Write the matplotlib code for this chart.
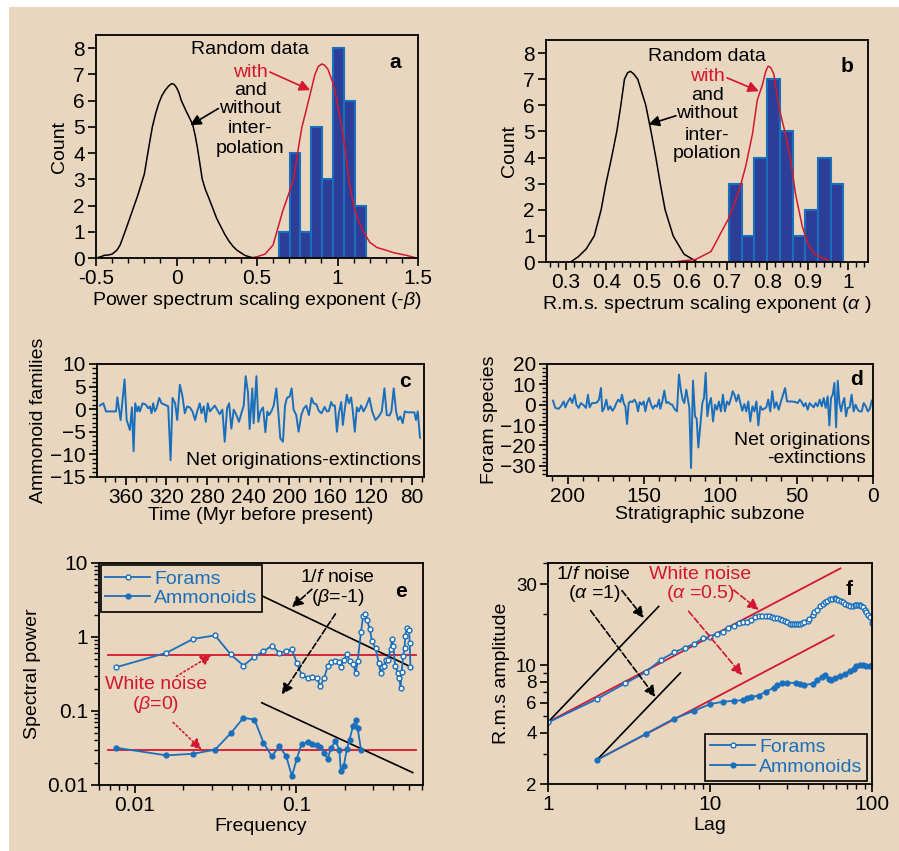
import matplotlib
matplotlib.use("Agg")
import matplotlib.pyplot as plt
import matplotlib.ticker as mticker
from matplotlib.patches import Rectangle

plt.rcParams['font.family'] = ['Liberation Sans', 'DejaVu Sans']
plt.rcParams['mathtext.fontset'] = 'custom'
plt.rcParams['mathtext.rm'] = 'Liberation Sans'
plt.rcParams['mathtext.it'] = 'Liberation Sans:italic'
FS = 14
TS = 15
plt.rcParams['font.size'] = FS

BG = '#e8d7be'
BLUE = '#1a6fbd'
NAVY = '#2c3e97'
RED = '#d3172e'

# ---- panel a: power spectrum exponents ----
edges_a = [0.634, 0.702, 0.770, 0.838, 0.906, 0.974, 1.042, 1.110, 1.178]
counts_a = [1, 4, 1, 5, 3, 8, 6, 2]
blk_a_x = [-0.5, -0.47, -0.45, -0.42, -0.4, -0.37, -0.35, -0.32, -0.3, -0.28, -0.26, -0.24, -0.22,
           -0.2, -0.185, -0.17, -0.15, -0.13, -0.11, -0.09, -0.07, -0.05, -0.03, -0.015, 0.0,
           0.015, 0.03, 0.045, 0.06, 0.08, 0.1, 0.115, 0.13, 0.145, 0.16, 0.18, 0.2, 0.225,
           0.25, 0.275, 0.3, 0.325, 0.35, 0.375, 0.4, 0.425, 0.45, 0.48]
blk_a_y = [0.0, 0.05, 0.1, 0.12, 0.15, 0.3, 0.5, 1.0, 1.35, 1.7, 2.05, 2.4, 2.8,
           3.2, 3.75, 4.3, 5.0, 5.5, 5.9, 6.2, 6.4, 6.55, 6.65, 6.62, 6.5,
           6.3, 6.0, 5.8, 5.6, 5.35, 5.1, 4.7, 4.2, 3.6, 3.0, 2.6, 2.3, 1.9,
           1.5, 1.2, 0.9, 0.65, 0.45, 0.3, 0.2, 0.1, 0.05, 0.0]
red_a_x = [0.46, 0.5, 0.55, 0.6, 0.623, 0.66, 0.7, 0.727, 0.76, 0.779, 0.80, 0.82, 0.84, 0.86,
           0.88, 0.903, 0.92, 0.94, 0.97, 0.996, 1.01, 1.027, 1.05, 1.069, 1.1, 1.13, 1.162, 1.2,
           1.245, 1.3, 1.35, 1.43, 1.49]
red_a_y = [0.0, 0.05, 0.15, 0.5, 1.0, 1.8, 2.5, 3.0, 4.3, 5.0, 5.5, 6.0, 6.5, 7.0,
           7.3, 7.4, 7.35, 7.2, 6.7, 6.0, 5.5, 5.0, 4.0, 3.0, 2.0, 1.4, 1.0, 0.6,
           0.4, 0.3, 0.2, 0.1, 0.0]

# ---- panel b: rms exponents ----
edges_b = [0.705, 0.7365, 0.768, 0.7995, 0.831, 0.8625, 0.894, 0.9255, 0.957, 0.9885]
counts_b = [3, 1, 4, 7, 5, 1, 2, 4, 3]
blk_b_x = [0.311, 0.33, 0.35, 0.37, 0.387, 0.399, 0.413, 0.426, 0.436, 0.445, 0.453, 0.46,
           0.468, 0.478, 0.498, 0.511, 0.523, 0.534, 0.546, 0.566, 0.593, 0.626]
blk_b_y = [0.0, 0.2, 0.5, 1.0, 2.0, 3.0, 4.0, 5.0, 6.0, 7.0, 7.25, 7.3,
           7.2, 7.0, 6.0, 5.0, 4.0, 3.0, 2.0, 1.0, 0.3, 0.0]
red_b_x = [0.566, 0.622, 0.66, 0.684, 0.705, 0.73, 0.746, 0.763, 0.775, 0.788, 0.796, 0.802,
           0.808, 0.816, 0.829, 0.845, 0.858, 0.87, 0.887, 0.903, 0.92, 0.936, 0.953]
red_b_y = [0.0, 0.1, 0.4, 1.1, 1.7, 2.75, 3.65, 4.9, 6.2, 6.8, 7.3, 7.5,
           7.45, 7.2, 5.9, 4.9, 3.9, 2.6, 1.35, 0.6, 0.28, 0.15, 0.08]

# ---- panel c: ammonoid net originations ----
c_time = [385.1, 381.8, 379.2, 369.4, 368.1, 364.9, 361.0, 359.0, 355.8, 353.8,
          352.2, 350.6, 348.6, 347.3, 346.0, 343.4, 340.2, 337.9, 336.2, 334.6,
          333.0, 331.4, 329.7, 327.1, 324.8, 321.6, 318.3, 316.0, 314.1, 311.5,
          309.5, 306.9, 304.3, 302.1, 299.8, 297.2, 294.6, 292.0, 290.0, 287.4,
          285.8, 283.5, 281.5, 279.6, 277.6, 275.0, 272.7, 270.5, 267.9, 265.3,
          263.0, 260.7, 258.7, 256.5, 254.2, 251.6, 249.0, 246.7, 244.4, 242.5,
          240.2, 238.6, 236.0, 234.7, 232.0, 230.1, 228.1, 225.5, 223.2, 221.3,
          219.7, 217.4, 215.1, 212.5, 210.6, 208.6, 206.0, 204.0, 202.1, 199.5,
          197.5, 195.6, 193.0, 190.7, 188.1, 185.8, 183.2, 180.6, 178.0, 176.0,
          173.4, 170.8, 168.2, 165.3, 163.0, 161.1, 158.8, 157.2, 155.2, 153.2,
          151.3, 149.0, 147.4, 145.4, 143.5, 141.5, 139.3, 137.6, 135.7, 133.7,
          131.8, 129.5, 127.2, 124.6, 121.4, 118.7, 115.5, 112.2, 109.3, 106.7,
          104.4, 101.8, 99.9, 97.6, 95.3, 93.3, 91.1, 88.8, 86.8, 83.9,
          80.6, 77.4, 75.8, 74.1, 71.9]
c_net = [0.8, 1.3, -0.5, -0.5, 2.6, -2.4, 6.6, -2.4, -4.6, 0.4,
         -9.3, 1.3, -0.5, 0.6, -0.5, 1.3, 1.0, 0.2, 0.6, -0.9,
         1.3, -0.5, 0.2, 2.5, 1.3, 1.0, 0.6, -11.3, 2.5, 1.3,
         -2.4, 5.4, 2.8, -0.9, 0.6, 0.4, -0.5, -2.4, -0.5, 1.3,
         -0.9, 0.6, -2.8, 1.3, -0.5, 0.2, 0.8, -0.1, -1.1, -0.1,
         -7.2, 0.2, 1.3, -4.3, -0.1, -1.3, -2.8, -0.9, 0.8, 7.3,
         3.6, -4.4, 4.6, -3.1, 7.3, -2.8, -0.5, 0.4, -5.1, -0.5,
         -1.3, -0.5, 0.8, 4.6, -0.5, -6.5, -7.2, 0.8, 2.5, 2.8,
         4.6, -0.1, -1.3, -5.0, -1.3, 0.1, 0.8, -1.3, 2.5, 1.3,
         1.1, -0.4, -0.9, 0.5, -0.5, -0.4, 1.6, 0.8, 0.8, -5.0,
         -0.9, 1.6, -3.5, 0.2, 3.2, 1.3, 2.6, -0.5, -5.0, 0.4,
         -0.5, 0.8, -0.5, 0.6, 2.5, -0.5, -2.4, -1.6, -0.5, 4.6,
         -1.3, -1.4, -0.5, 4.6, -0.5, -2.4, -1.6, -3.1, -0.5, -0.7,
         -0.7, -0.7, -2.4, -0.5, -6.3]

# ---- panel d: foram net originations ----
d_zone = [209.6, 208.1, 205.9, 204.4, 202.6, 201.5, 200.0, 198.3, 197.0, 195.4,
          194.3, 192.8, 191.3, 189.5, 188.0, 186.7, 185.6, 184.1, 182.5, 180.8,
          179.5, 178.2, 177.3, 176.0, 174.7, 173.4, 172.1, 170.7, 169.4, 168.1,
          166.8, 165.5, 164.4, 163.3, 162.2, 161.1, 160.0, 159.0, 157.6, 156.3,
          155.0, 153.9, 152.8, 151.5, 150.2, 149.1, 148.0, 146.7, 145.4, 144.1,
          142.8, 141.5, 140.2, 139.3, 138.0, 136.7, 135.4, 134.1, 132.8, 131.5,
          130.1, 128.4, 127.1, 125.8, 124.7, 123.6, 122.3, 121.2, 120.3, 119.2,
          117.9, 116.6, 115.5, 114.4, 113.1, 111.8, 110.7, 109.6, 108.5, 107.4,
          106.1, 104.8, 103.5, 102.2, 100.9, 99.6, 98.3, 97.0, 95.6, 94.3,
          93.0, 91.9, 90.8, 89.5, 88.2, 86.9, 85.6, 84.3, 83.0, 81.7,
          80.4, 79.0, 77.7, 76.4, 75.1, 73.8, 72.5, 71.2, 69.9, 68.6,
          67.3, 66.0, 64.6, 63.3, 61.8, 60.3, 58.9, 57.6, 56.3, 55.0,
          53.1, 50.9, 49.3, 48.0, 46.7, 45.4, 44.1, 42.8, 41.5, 40.2,
          38.9, 37.6, 36.3, 34.9, 33.6, 32.3, 31.0, 29.7, 28.6, 27.5,
          26.4, 25.3, 24.2, 23.1, 22.0, 20.9, 19.9, 18.8, 17.7, 16.6,
          15.3, 14.0, 12.7, 11.4, 10.0, 8.7, 7.4, 6.1, 4.7, 3.4,
          2.1, 0.8]
d_net = [2.0, -1.6, -2.0, -0.8, 1.6, -1.3, 1.3, 3.3, 0.8, 4.9,
         0.0, -1.6, 0.8, -0.3, -1.6, 4.9, -1.3, 0.8, 0.8, 1.1,
         2.5, 8.2, -3.3, -1.6, 2.5, -2.5, -0.8, -3.0, -1.6, 0.8,
         2.5, 1.3, 4.9, 0.8, -0.8, -9.5, 0.8, 1.6, 1.3, 2.5,
         0.8, -3.3, 1.3, 0.0, 1.6, -3.3, 0.8, 3.3, 0.0, -2.0,
         -0.3, -1.0, 2.5, -2.0, 1.6, 6.9, 0.8, 1.3, 0.3, 0.0,
         -2.0, -3.3, 14.8, 6.9, 2.5, 0.8, 7.4, 2.5, -1.6, -31.1,
         11.8, -5.7, -6.9, -21.0, -9.8, 0.8, 3.3, 15.6, -5.7, 0.0,
         3.3, -8.2, 0.0, -2.5, 1.6, -3.3, 4.9, -3.3, 1.6, 0.0,
         3.3, 6.6, 4.9, 1.6, 4.9, 0.8, -3.0, 0.3, -3.3, 1.6,
         -8.2, -0.8, -3.3, 1.6, -10.2, -0.8, -2.5, -2.0, -1.3, 2.5,
         -3.3, 6.6, -1.6, 1.3, -2.5, 1.6, 4.9, 8.2, 1.6, 1.6,
         1.6, 1.3, 0.8, 2.5, 1.3, -0.8, 0.8, -2.5, 0.8, -0.3,
         -1.3, 0.8, -0.8, 2.5, -0.8, 3.3, -1.6, 4.1, -10.2, 3.3,
         4.9, 10.7, -11.1, 11.8, 0.8, -3.3, 0.8, 3.3, -5.7, -1.6,
         -1.3, 4.9, -3.3, 0.0, -2.5, -3.3, -3.3, 0.8, -0.8, -3.3,
         -2.0, 2.0]

# ---- panel e: power spectra ----
e_freq_forams = [0.00769, 0.0157, 0.0230, 0.0314, 0.0393, 0.0471, 0.0551, 0.0627, 0.0706, 0.0787,
                 0.0867, 0.094, 0.101, 0.108, 0.1175, 0.125, 0.134, 0.141, 0.149, 0.157,
                 0.164, 0.175, 0.185, 0.189, 0.197, 0.206, 0.214, 0.225, 0.234, 0.240,
                 0.252, 0.2597, 0.268, 0.275, 0.286, 0.295, 0.31, 0.325, 0.333, 0.340,
                 0.35, 0.36, 0.37, 0.384, 0.393, 0.40, 0.41, 0.426, 0.435, 0.443,
                 0.45, 0.46, 0.47, 0.473, 0.485, 0.50, 0.505, 0.51]
e_pow_forams = [0.39, 0.61, 0.94, 1.05, 0.58, 0.41, 0.54, 0.64, 0.76, 0.61,
                0.64, 0.68, 0.44, 0.31, 0.28, 0.29, 0.28, 0.215, 0.28, 0.41,
                0.455, 0.48, 0.455, 0.39, 0.49, 0.58, 0.48, 0.43, 0.33, 0.47,
                1.17, 1.94, 2.05, 1.67, 1.27, 0.875, 0.70, 0.44, 0.33, 0.39,
                0.40, 0.49, 0.49, 0.68, 0.93, 0.76, 0.41, 0.33, 0.28, 0.205,
                0.34, 0.56, 0.71, 1.03, 1.32, 1.23, 0.83, 0.39]
e_freq_amm = [0.00769, 0.0157, 0.0230, 0.0314, 0.0393, 0.0471, 0.0551, 0.0627, 0.0706, 0.0787,
              0.0867, 0.094, 0.101, 0.108, 0.1175, 0.125, 0.134, 0.141, 0.149, 0.157,
              0.164, 0.175, 0.185, 0.189, 0.197, 0.206, 0.214, 0.225, 0.234, 0.240, 0.252]
e_pow_amm = [0.0318, 0.0251, 0.0264, 0.0299, 0.0499, 0.0807, 0.0766, 0.0374, 0.0244, 0.0334,
             0.0244, 0.0132, 0.0227, 0.036, 0.0378, 0.0355, 0.0342, 0.0324, 0.027, 0.0227,
             0.0318, 0.039, 0.0299, 0.0155, 0.0179, 0.0308, 0.0406, 0.063, 0.075, 0.0587, 0.0299]
e_white_f = [0.00683, 0.55]
e_white_forams = [0.57, 0.57]
e_white_amm = [0.03, 0.03]
e_pink_upper_f, e_pink_upper_p = [0.0612, 0.523], [3.6, 0.386]
e_pink_lower_f, e_pink_lower_p = [0.0612, 0.527], [0.129, 0.0147]

# ---- panel f: rms amplitude vs lag ----
f_lag_forams = [1, 2, 3, 4, 5, 6, 7, 8, 9, 10,
                11, 12, 13, 14, 15, 16, 17, 18, 19, 20, 21, 22, 23,
                24, 25, 26, 27, 28, 29, 30, 31, 32, 33, 34, 35, 36, 37, 38, 40, 41, 43, 44,
                46, 48, 50, 51, 53, 55, 57, 59, 60, 62, 64, 66, 68, 71, 73, 76, 78, 80, 82, 84,
                86, 88, 90, 92, 94, 97, 100]
f_amp_forams = [4.61, 6.32, 7.84, 9.1, 10.8, 11.9, 12.7, 13.4, 14.4, 14.7,
                15.3, 15.8, 16.6, 17.1, 17.7, 17.9, 18.1, 18.5, 19.2, 19.4, 19.5, 19.6, 19.4,
                19.2, 19.0, 18.9, 18.7, 18.5, 18.2, 17.9, 17.6, 17.4, 17.4, 17.4, 17.4, 17.5, 17.7, 17.9, 18.3, 18.8, 19.7, 20.5,
                21.3, 22.2, 22.9, 23.5, 24.0, 24.4, 24.7, 24.9, 24.6, 24.2, 23.8, 23.5, 23.0, 22.5, 22.3, 22.2, 22.5, 22.7, 22.7, 22.7,
                22.4, 22.0, 21.3, 20.5, 19.9, 19.2, 17.7]
f_lag_amm = [2, 4, 6, 8, 10, 12, 14, 16, 17, 18,
             20, 22, 25, 26, 28, 30, 34, 36, 38, 43,
             46, 49, 51, 54, 56, 59, 63, 68, 73, 77,
             80, 84, 88, 92, 97, 100]
f_amp_amm = [2.77, 3.94, 4.85, 5.40, 5.91, 6.1, 6.18, 6.23, 6.38, 6.52,
             6.64, 6.98, 7.4, 7.64, 7.88, 7.88, 7.88, 7.81, 7.64, 7.81,
             8.17, 8.54, 8.73, 8.35, 8.24, 8.47, 8.62, 8.93, 9.22, 9.56,
             9.87, 10.0, 10.0, 9.87, 9.87, 9.99]
f_white_upper_x, f_white_upper_y = [1, 63.8], [4.63, 37.2]
f_white_lower_x, f_white_lower_y = [2, 58], [2.77, 15.0]
f_pink_upper_x, f_pink_upper_y = [1, 4.82], [4.63, 22.2]
f_pink_lower_x, f_pink_lower_y = [2, 6.56], [2.77, 9.02]

fig = plt.figure(figsize=(8.99, 8.51), dpi=100, facecolor=BG)
fig.patches.append(Rectangle((0, 1 - 7 / 851), 1, 7 / 851, transform=fig.transFigure,
                             facecolor='white', edgecolor='none', zorder=-5))
fig.patches.append(Rectangle((0, 0), 9 / 899, 1, transform=fig.transFigure,
                             facecolor='white', edgecolor='none', zorder=-5))


def style(ax):
    ax.set_facecolor(BG)
    for s in ax.spines.values():
        s.set_linewidth(1.3)
    ax.tick_params(direction='out', length=6, width=1.2, labelsize=TS, top=False, right=False, pad=2)
    ax.tick_params(which='minor', direction='out', length=3.5, width=1.0)


def arrow(ax, start, end, color='k', ls='-', lw=1.2, ms=16):
    ax.annotate('', xy=end, xytext=start,
                arrowprops=dict(arrowstyle='-|>', color=color, lw=lw, linestyle=ls,
                                mutation_scale=ms, shrinkA=0, shrinkB=0))


def stack_text(ax, x, ys, words, colors):
    for y, w, c in zip(ys, words, colors):
        ax.text(x, y, w, ha='center', va='center', fontsize=FS, color=c)


# panel a
ax = fig.add_axes([0.1068, 0.6968, 0.3582, 0.2620])
style(ax)
ax.bar(edges_a[:-1], counts_a, width=[edges_a[i + 1] - edges_a[i] for i in range(len(counts_a))],
       align='edge', color=NAVY, edgecolor=BLUE, linewidth=1.5)
ax.plot(blk_a_x, blk_a_y, color='k', lw=1.1)
ax.plot(red_a_x, red_a_y, color=RED, lw=1.1)
ax.set_xlim(-0.5, 1.5)
ax.set_ylim(0, 8.5)
ax.xaxis.set_major_locator(mticker.MultipleLocator(0.5))
ax.xaxis.set_minor_locator(mticker.MultipleLocator(0.1))
ax.xaxis.set_major_formatter(mticker.FuncFormatter(lambda v, p: f'{v:g}'))
ax.set_yticks(range(0, 9))
ax.set_ylabel('Count', fontsize=FS, labelpad=4)
ax.set_xlabel(r'Power spectrum scaling exponent (-$\beta$)', fontsize=FS, labelpad=1)
stack_text(ax, 0.457, [7.94, 7.09, 6.39, 5.70, 4.94, 4.18],
           ['Random data', 'with', 'and', 'without', 'inter-', 'polation'],
           ['k', RED, 'k', 'k', 'k', 'k'])
arrow(ax, (0.58, 7.09), (0.83, 6.4), color=RED)
arrow(ax, (0.26, 5.7), (0.085, 5.06))
ax.text(1.355, 7.44, 'a', fontsize=FS + 1, fontweight='bold', ha='center', va='center')

# panel b
ax = fig.add_axes([0.6073, 0.6921, 0.3582, 0.2609])
style(ax)
ax.bar(edges_b[:-1], counts_b, width=[edges_b[i + 1] - edges_b[i] for i in range(len(counts_b))],
       align='edge', color=NAVY, edgecolor=BLUE, linewidth=1.5)
ax.plot(blk_b_x, blk_b_y, color='k', lw=1.1)
ax.plot(red_b_x, red_b_y, color=RED, lw=1.1)
ax.set_xlim(0.25, 1.05)
ax.set_ylim(0, 8.5)
ax.set_xticks([0.3, 0.4, 0.5, 0.6, 0.7, 0.8, 0.9, 1.0])
ax.set_xticklabels(['0.3', '0.4', '0.5', '0.6', '0.7', '0.8', '0.9', '1'])
ax.xaxis.set_minor_locator(mticker.MultipleLocator(0.02))
ax.set_yticks(range(0, 9))
ax.set_ylabel('Count', fontsize=FS, labelpad=4)
ax.set_xlabel(r'R.m.s. spectrum scaling exponent ($\alpha$ )', fontsize=FS, labelpad=1)
stack_text(ax, 0.651, [7.87, 7.1, 6.37, 5.68, 4.85, 4.15],
           ['Random data', 'with', 'and', 'without', 'inter-', 'polation'],
           ['k', RED, 'k', 'k', 'k', 'k'])
arrow(ax, (0.70, 7.05), (0.779, 6.54), color=RED)
arrow(ax, (0.573, 5.6), (0.505, 5.27))
ax.text(0.998, 7.5, 'b', fontsize=FS + 1, fontweight='bold', ha='center', va='center')

# panel c
ax = fig.add_axes([0.1079, 0.4395, 0.3637, 0.1328])
style(ax)
ax.plot(c_time, c_net, color=BLUE, lw=1.4)
ax.set_xlim(388, 68)
ax.set_ylim(-15, 10)
ax.set_xticks([360, 320, 280, 240, 200, 160, 120, 80])
ax.xaxis.set_minor_locator(mticker.MultipleLocator(10))
ax.set_yticks([-15, -10, -5, 0, 5, 10])
ax.yaxis.set_minor_locator(mticker.MultipleLocator(1))
ax.set_ylabel('Ammonoid families', fontsize=FS, labelpad=2)
ax.set_xlabel('Time (Myr before present)', fontsize=FS, labelpad=0)
ax.text(0.99, 0.15, 'Net originations-extinctions', transform=ax.transAxes,
        ha='right', va='center', fontsize=FS)
ax.text(0.942, 0.843, 'c', transform=ax.transAxes, fontsize=FS + 1, fontweight='bold',
        ha='center', va='center')

# panel d
ax = fig.add_axes([0.6085, 0.4407, 0.3626, 0.1316])
style(ax)
ax.plot(d_zone, d_net, color=BLUE, lw=1.4)
ax.set_xlim(213.5, 0)
ax.set_ylim(-35, 20)
ax.set_xticks([200, 150, 100, 50, 0])
ax.xaxis.set_minor_locator(mticker.MultipleLocator(10))
ax.set_yticks([-30, -20, -10, 0, 10, 20])
ax.yaxis.set_minor_locator(mticker.MultipleLocator(2))
ax.set_ylabel('Foram species', fontsize=FS, labelpad=2)
ax.set_xlabel('Stratigraphic subzone', fontsize=FS, labelpad=0)
ax.text(0.993, 0.32, 'Net originations', transform=ax.transAxes, ha='right', va='center', fontsize=FS)
ax.text(0.98, 0.16, '-extinctions', transform=ax.transAxes, ha='right', va='center', fontsize=FS)
ax.text(0.95, 0.857, 'd', transform=ax.transAxes, fontsize=FS + 1, fontweight='bold',
        ha='center', va='center')

# panel e
ax = fig.add_axes([0.1101, 0.0776, 0.3604, 0.2609])
style(ax)
ax.set_xscale('log')
ax.set_yscale('log')
ax.plot(e_white_f, e_white_forams, color=RED, lw=1.3)
ax.plot(e_white_f, e_white_amm, color=RED, lw=1.3)
ax.plot(e_pink_upper_f, e_pink_upper_p, color='k', lw=1.2)
ax.plot(e_pink_lower_f, e_pink_lower_p, color='k', lw=1.2)
ax.plot(e_freq_forams, e_pow_forams, color=BLUE, lw=1.3, marker='o', ms=3.5,
        mfc='white', mec=BLUE, mew=1.0, label='Forams')
ax.plot(e_freq_amm, e_pow_amm, color=BLUE, lw=1.3, marker='o', ms=3.5,
        mfc=BLUE, mec=BLUE, label='Ammonoids')
ax.set_xlim(0.006, 0.61)
ax.set_ylim(0.01, 10)
ax.set_xticks([0.01, 0.1])
ax.set_xticklabels(['0.01', '0.1'])
ax.set_yticks([0.01, 0.1, 1, 10])
ax.set_yticklabels(['0.01', '0.1', '1', '10'])
ax.set_ylabel('Spectral power', fontsize=FS)
ax.set_xlabel('Frequency', fontsize=FS, labelpad=2)
leg = ax.legend(loc='upper left', bbox_to_anchor=(0.005, 0.99), fontsize=FS, labelcolor='linecolor',
                frameon=True, fancybox=False, edgecolor='k', facecolor=BG, framealpha=1,
                handlelength=2.3, handletextpad=0.2, borderpad=0.25, labelspacing=0.1,
                borderaxespad=0)
leg.get_frame().set_linewidth(1.2)
ax.text(0.179, 6.3, '1/$f$ noise', ha='center', va='center', fontsize=FS)
ax.text(0.182, 3.41, r'($\beta$=-1)', ha='center', va='center', fontsize=FS)
ax.text(0.0135, 0.227, 'White noise', ha='center', va='center', fontsize=FS, color=RED)
ax.text(0.0135, 0.123, r'($\beta$=0)', ha='center', va='center', fontsize=FS, color=RED)
arrow(ax, (0.125, 4.41), (0.094, 2.51), ls='--')
arrow(ax, (0.175, 2.05), (0.0815, 0.167), ls='--')
arrow(ax, (0.0181, 0.293), (0.0299, 0.57), color=RED, ls=':')
arrow(ax, (0.0173, 0.0699), (0.0259, 0.0299), color=RED, ls=':')
ax.text(0.443, 4.06, 'e', fontsize=FS + 1, fontweight='bold', ha='center', va='center')

# panel f
ax = fig.add_axes([0.6096, 0.0787, 0.3604, 0.2597])
style(ax)
ax.set_xscale('log')
ax.set_yscale('log')
ax.plot(f_white_upper_x, f_white_upper_y, color=RED, lw=1.3)
ax.plot(f_white_lower_x, f_white_lower_y, color=RED, lw=1.3)
ax.plot(f_pink_upper_x, f_pink_upper_y, color='k', lw=1.2)
ax.plot(f_pink_lower_x, f_pink_lower_y, color='k', lw=1.2)
ax.plot(f_lag_forams, f_amp_forams, color=BLUE, lw=1.3, marker='o', ms=3.5,
        mfc='white', mec=BLUE, mew=1.0, label='Forams')
ax.plot(f_lag_amm, f_amp_amm, color=BLUE, lw=1.3, marker='o', ms=3.5,
        mfc=BLUE, mec=BLUE, label='Ammonoids')
ax.set_xlim(1, 100)
ax.set_ylim(2, 40)
ax.set_xticks([1, 10, 100])
ax.set_xticklabels(['1', '10', '100'])
ax.yaxis.set_major_locator(mticker.FixedLocator([2, 4, 6, 8, 10, 30]))
ax.yaxis.set_major_formatter(mticker.FixedFormatter(['2', '4', '6', '8', '10', '30']))
ax.yaxis.set_minor_locator(mticker.FixedLocator([3, 5, 7, 9, 20, 40]))
ax.yaxis.set_minor_formatter(mticker.NullFormatter())
ax.tick_params(axis='y', labelsize=13.5)
ax.set_ylabel('R.m.s amplitude', fontsize=FS)
ax.set_xlabel('Lag', fontsize=FS, labelpad=2)
leg = ax.legend(loc='lower right', bbox_to_anchor=(0.985, 0.015), fontsize=FS, labelcolor='linecolor',
                frameon=True, fancybox=False, edgecolor='k', facecolor=BG, framealpha=1,
                handlelength=2.3, handletextpad=0.2, borderpad=0.25, labelspacing=0.1,
                borderaxespad=0)
leg.get_frame().set_linewidth(1.2)
ax.text(1.91, 34.4, '1/$f$ noise', ha='center', va='center', fontsize=FS)
ax.text(1.93, 26.3, r'($\alpha$ =1)', ha='center', va='center', fontsize=FS)
ax.text(8.71, 34.4, 'White noise', ha='center', va='center', fontsize=FS, color=RED)
ax.text(8.71, 26.3, r'($\alpha$ =0.5)', ha='center', va='center', fontsize=FS, color=RED)
arrow(ax, (2.86, 27.5), (3.9, 19.0), ls='--')
arrow(ax, (1.83, 21.0), (4.6, 6.52), ls='--')
arrow(ax, (14.0, 27.7), (20.0, 21.2), color=RED, ls='--')
arrow(ax, (7.38, 20.8), (15.8, 8.74), color=RED, ls='--')
ax.text(71.8, 28.1, 'f', fontsize=FS + 1, fontweight='bold', ha='center', va='center')

fig.savefig('out.png', dpi=100, facecolor=fig.get_facecolor())
